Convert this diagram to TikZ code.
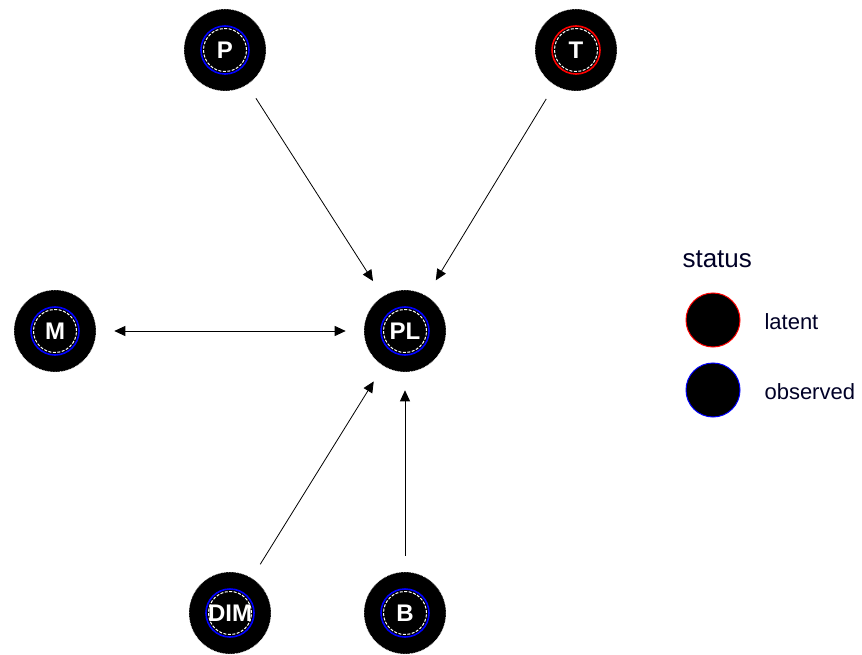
\documentclass[tikz,border=0pt]{standalone}
\usepackage{fontspec}
\setmainfont{Liberation Sans}
\usetikzlibrary{arrows.meta}
\begin{document}
\begin{tikzpicture}[x=1pt,y=-1pt,
  var/.style={circle,fill=black,draw=white,densely dotted,line width=0.6pt,minimum size=82pt,inner sep=0pt,
    text=white,font=\bfseries\fontsize{24}{24}\selectfont},
  obs/.style={var,path picture={
    \draw[blue,line width=1.6pt,solid] (path picture bounding box.center) circle (24pt);
    \draw[white,line width=1pt,dashed,dash pattern=on 3pt off 1.5pt] (path picture bounding box.center) circle (21.5pt);}},
  lat/.style={var,path picture={
    \draw[red,line width=1.6pt,solid] (path picture bounding box.center) circle (24pt);
    \draw[white,line width=1pt,dashed,dash pattern=on 3pt off 1.5pt] (path picture bounding box.center) circle (21.5pt);}},
  edge/.style={line width=0.8pt,-{Triangle[length=11pt,width=10pt]},shorten <=16pt,shorten >=18pt},
  bedge/.style={edge,{Triangle[length=11pt,width=10pt]}-{Triangle[length=11pt,width=10pt]},shorten <=18pt},
  legc/.style={circle,fill=black,minimum size=54pt,inner sep=0pt,line width=1pt},
  legt/.style={anchor=west,font=\fontsize{22}{22}\selectfont,text=black!85!blue}
]
\useasboundingbox (0,0) rectangle (862,655);
\node[obs] (P) at (225,50) {P};
\node[lat] (T) at (576,50) {T};
\node[obs] (M) at (55,331) {M};
\node[obs] (PL) at (405,331) {PL};
\node[obs] (DIM) at (230,613) {DIM};
\node[obs] (B) at (405,613) {B};
\draw[edge] (P) -- (PL);
\draw[edge] (T) -- (PL);
\draw[bedge] (M) -- (PL);
\draw[edge] (DIM) -- (PL);
\draw[edge] (B) -- (PL);
\node[anchor=west,font=\fontsize{26}{26}\selectfont,text=black!85!blue] (status) at (679,259) {status};
\node[legc,draw=red] (legL) at (713,320) {};
\node[legc,draw=blue] (legO) at (713,390) {};
\node[legt] (latent) at (761,322) {latent};
\node[legt] (observed) at (761,392) {observed};
\end{tikzpicture}
\end{document}
